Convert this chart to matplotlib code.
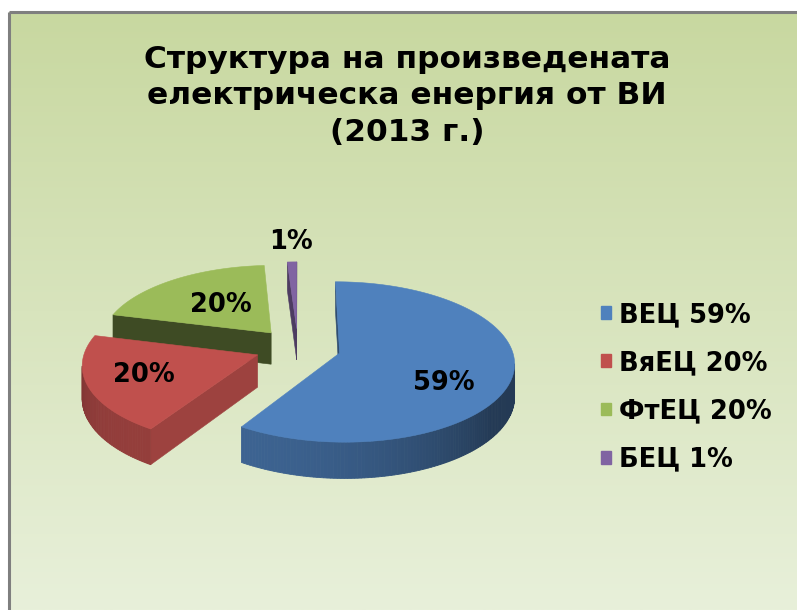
import numpy as np
import matplotlib
matplotlib.use("Agg")
import matplotlib.pyplot as plt
from matplotlib.patches import Polygon, Patch

# ---- data -------------------------------------------------------------
title = "Структура на произведената\nелектрическа енергия от ВИ\n(2013 г.)"
sources = ["ВЕЦ", "ВяЕЦ", "ФтЕЦ", "БЕЦ"]
shares = [59, 20, 20, 1]
colors = ["#4f81bd", "#c0504d", "#9bbb59", "#8064a2"]

# ---- canvas -----------------------------------------------------------
W, H = 797, 610
fig = plt.figure(figsize=(W / 100, H / 100), dpi=100)
ax = fig.add_axes([0, 0, 1, 1])
ax.set_xlim(0, W)
ax.set_ylim(H, 0)
ax.axis("off")

# slide-style vertical gradient background with a thin frame
g = np.linspace(0, 1, 256)[:, None, None]
c_top = np.array([200, 216, 160]) / 255
c_bot = np.array([232, 240, 218]) / 255
ax.imshow(c_top + (c_bot - c_top) * g, extent=(9, W, H, 12), aspect="auto",
          zorder=0, interpolation="bilinear")
ax.plot([9, 9], [12, H], color="#7f7f7f", lw=2.2, zorder=1, solid_capstyle="butt")
ax.plot([9, W], [12, 12], color="#7f7f7f", lw=2.2, zorder=1, solid_capstyle="butt")

# ---- 3D exploded pie --------------------------------------------------
cx, cy = 298, 347.6      # projected centre of the (unexploded) top face
rx, ry = 172, 78         # projected radii
persp = 0.11             # perspective strength
depth = 32               # slab thickness
explode = 0.25
cam = np.array([0.0, -1.0 / persp])


def project(X, Z, lvl):
    w = 1.0 / (1.0 + persp * np.asarray(Z))
    return cx + rx * np.asarray(X) * w, cy - ry * np.asarray(Z) * w + depth * lvl * w


def shade(c, f):
    rgb = np.array(matplotlib.colors.to_rgb(c))
    return tuple(np.clip(rgb * f, 0, 1))


radial_shade = [0.6, 0.82, 0.4, 0.6]
label_r = [0.61, 0.68, 0.5, 1.35]
label_lvl = [0.5, 0.0, 0.0, 0.0]

vals = np.array(shares, dtype=float)
bounds = np.concatenate([[0], np.cumsum(vals) / vals.sum()]) * 2 * np.pi
light = np.array([-0.6, -0.8])

slices = []
for i in range(len(vals)):
    a0, a1 = bounds[i], bounds[i + 1]
    mid = 0.5 * (a0 + a1)
    ex, ez = explode * np.sin(mid), explode * np.cos(mid)
    slices.append((i, a0, a1, mid, ex, ez))

for i, a0, a1, mid, ex, ez in sorted(slices, key=lambda s: -s[5]):
    col = colors[i]
    n = max(3, int(np.degrees(a1 - a0)))
    th = np.linspace(a0, a1, n)
    rimX, rimZ = ex + np.sin(th), ez + np.cos(th)
    apex = np.array([ex, ez])

    # radial cut faces
    for a, nrm in ((a0, np.array([-np.cos(a0), np.sin(a0)])),
                   (a1, np.array([np.cos(a1), -np.sin(a1)]))):
        if nrm @ (cam - apex) > 0:
            X = [ex, ex + np.sin(a), ex + np.sin(a), ex]
            Z = [ez, ez + np.cos(a), ez + np.cos(a), ez]
            L = [0, 0, 1, 1]
            px, py = zip(*[project(x, z, l) for x, z, l in zip(X, Z, L)])
            fc = shade(col, radial_shade[i])
            ax.add_patch(Polygon(np.column_stack([px, py]), closed=True,
                                 fc=fc, ec=fc, lw=0.4, zorder=2))

    # outer curved wall, shaded strip by strip
    for k in range(n - 1):
        tm = 0.5 * (th[k] + th[k + 1])
        nrm = np.array([np.sin(tm), np.cos(tm)])
        p = np.array([ex + nrm[0], ez + nrm[1]])
        if nrm @ (cam - p) <= 0:
            continue
        f = 0.45 + 0.32 * max(0.0, nrm @ light)
        xt, yt = project(rimX[k:k + 2], rimZ[k:k + 2], 0)
        xb, yb = project(rimX[k:k + 2], rimZ[k:k + 2], 1)
        poly = np.column_stack([np.r_[xt, xb[::-1]], np.r_[yt, yb[::-1]]])
        fc = shade(col, f)
        ax.add_patch(Polygon(poly, closed=True, fc=fc, ec=fc, lw=0.6, zorder=2))

    # top face
    tx, ty = project(np.r_[ex, rimX], np.r_[ez, rimZ], 0)
    ax.add_patch(Polygon(np.column_stack([tx, ty]), closed=True,
                         fc=col, ec=col, lw=0.4, zorder=3))

    # value label
    lx, ly = project(ex + label_r[i] * np.sin(mid), ez + label_r[i] * np.cos(mid),
                     label_lvl[i])
    ax.text(lx, ly, f"{shares[i]}%", ha="center", va="center", fontsize=18.5,
            fontweight="bold", family="DejaVu Sans", color="black", zorder=5)

# ---- title ------------------------------------------------------------
ax.text(407, 96, title, ha="center", va="center", fontsize=22.5,
        fontweight="bold", family="DejaVu Sans", linespacing=1.33, zorder=5)

# ---- legend -----------------------------------------------------------
handles = [Patch(fc=c, ec=c) for c in colors]
labels = [f"{s} {v}%" for s, v in zip(sources, shares)]
ax.legend(handles, labels, loc="upper left", bbox_to_anchor=(601 / W, 1 - 302 / H),
          frameon=False, borderpad=0, borderaxespad=0, handlelength=0.4,
          handleheight=0.4, handletextpad=0.3, labelspacing=0.86,
          prop={"family": "DejaVu Sans", "weight": "bold", "size": 18.5})

fig.savefig("out.png", dpi=100)
